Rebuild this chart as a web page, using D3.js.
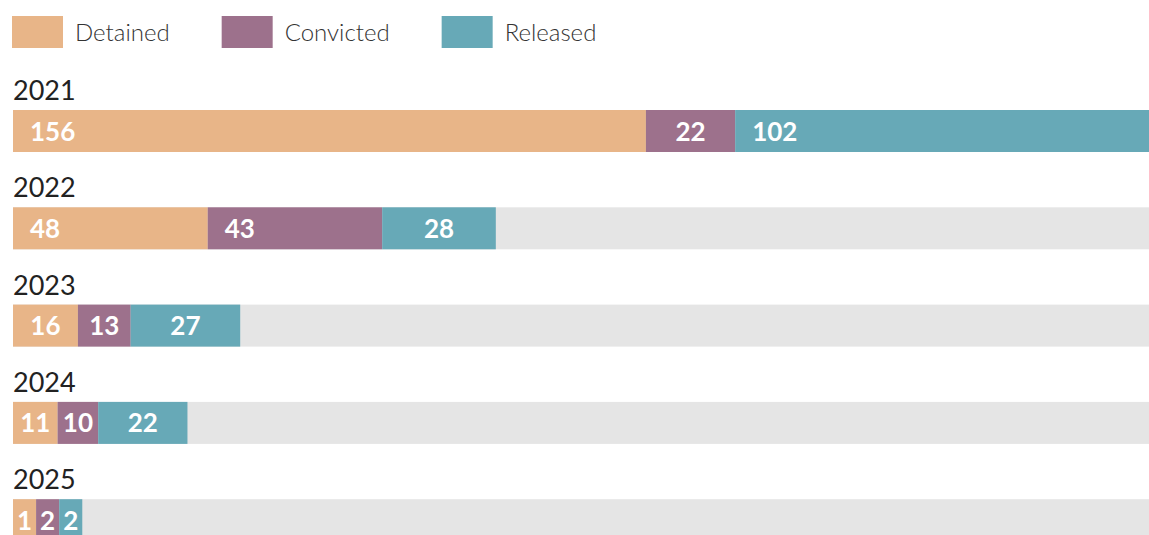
<!DOCTYPE html>
<html lang="en">
<head>
    <meta charset="UTF-8">
    <title>Detained, Convicted, Released</title>
    <script src="https://d3js.org/d3.v7.min.js"></script>
    <style>
        body { margin: 0; background: #fff; font-family: Lato, "Open Sans", sans-serif; }
        svg { display: block; }
        .legend-label { font-size: 24px; font-weight: 300; fill: #333; }
        .year { font-size: 27px; fill: #222; }
        .value { font-size: 26px; font-weight: 700; fill: #fff; }
    </style>
</head>
<body>
    <svg id="chart"></svg>
    <script>
        const width = 1149, height = 535;

        const years = ["2021", "2022", "2023", "2024", "2025"];
        const series = ["Detained", "Convicted", "Released"];
        const detained = [156, 48, 16, 11, 1];
        const convicted = [22, 43, 13, 10, 2];
        const released = [102, 28, 27, 22, 2];
        const colors = ["#e8b588", "#9d718c", "#67a9b7"];

        const values = [detained, convicted, released];
        const rows = years.map((y, i) => ({ year: y, vals: values.map(s => s[i]) }));

        const svg = d3.select("#chart").attr("width", width).attr("height", height);

        // legend, laid out left to right by text width
        const leg = svg.append("g").selectAll("g").data(series).join("g");
        leg.append("rect").attr("width", 51).attr("height", 32).attr("fill", (d, i) => colors[i]);
        leg.append("text").attr("class", "legend-label").attr("x", 63).attr("y", 25).text(d => d);
        let lx = 12;
        leg.each(function () {
            const g = d3.select(this);
            g.attr("transform", `translate(${lx},16)`);
            lx += 63 + g.select("text").node().getComputedTextLength() + 52;
        });

        const maxTotal = d3.max(rows, r => d3.sum(r.vals));
        const x = d3.scaleLinear().domain([0, maxTotal]).range([13, width]);
        const y = d3.scaleBand().domain(years).range([66, 66 + 97.3 * years.length]);
        const barH = 42, barOff = 44;

        // measure label widths so tiny segments still fit their number
        const probe = svg.append("text").attr("class", "value");
        function textW(t) { probe.text(t); return probe.node().getComputedTextLength(); }

        const row = svg.append("g").selectAll("g").data(rows).join("g")
            .attr("transform", d => `translate(0,${y(d.year)})`);

        row.append("text").attr("class", "year").attr("x", 13).attr("y", 34).text(d => d.year);
        row.append("rect").attr("x", x(0)).attr("y", barOff).attr("width", x(maxTotal) - x(0))
            .attr("height", barH).attr("fill", "#e5e5e5");

        row.each(function (d) {
            const g = d3.select(this);
            let pos = x(0);
            d.vals.forEach((v, i) => {
                const lab = String(v);
                const tw = textW(lab);
                const w = Math.max(x(v) - x(0), tw + 8);
                g.append("rect").attr("x", pos).attr("y", barOff).attr("width", w)
                    .attr("height", barH).attr("fill", colors[i]);
                const left = w > 150;
                g.append("text").attr("class", "value")
                    .attr("x", left ? pos + 17 : pos + w / 2)
                    .attr("text-anchor", left ? "start" : "middle")
                    .attr("y", barOff + barH / 2 + 9.5)
                    .text(lab);
                pos += w;
            });
        });
        probe.remove();
    </script>
</body>
</html>
